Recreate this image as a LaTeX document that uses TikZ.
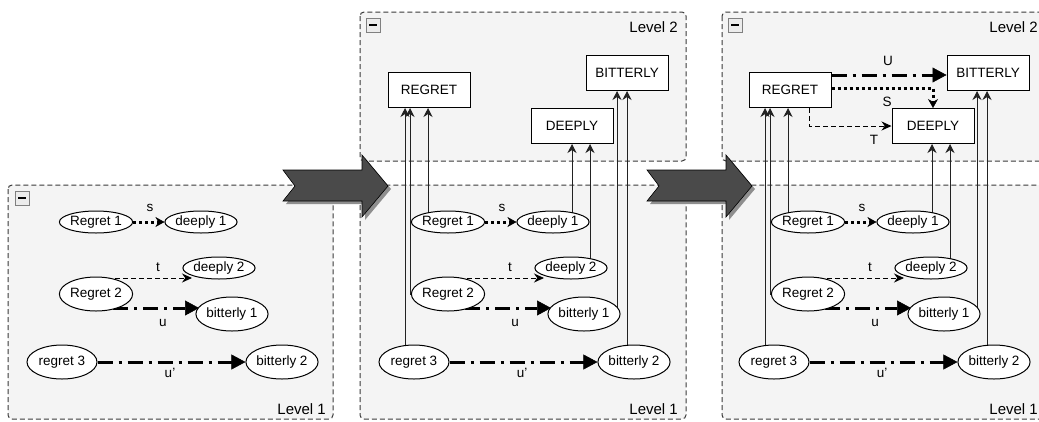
\documentclass[tikz,border=0pt]{standalone}
\usepackage{fontspec}
\setmainfont{Liberation Sans}
\usetikzlibrary{shapes,arrows.meta}

\definecolor{panelfill}{HTML}{F4F4F4}
\definecolor{framegray}{HTML}{3A3A3A}
\definecolor{arrowgray}{HTML}{4A4A4A}
\definecolor{shadowgray}{HTML}{8E8E8E}
\definecolor{wiregray}{HTML}{222222}

\pgfdeclarelayer{back}
\pgfdeclarelayer{wires}
\pgfsetlayers{back,wires,main}

\tikzset{
  panel/.style={draw=framegray, fill=panelfill, line width=1pt, dash pattern=on 5pt off 3pt, rounded corners=4pt},
  toggle/.style={draw=gray, fill=gray!15, minimum size=14pt, inner sep=0pt},
  lvl/.style={anchor=east, inner sep=0pt, font=\fontsize{15}{17}\selectfont},
  lab/.style={inner sep=0pt, font=\fontsize{13.5}{15}\selectfont},
  ell/.style={ellipse, draw, fill=white, line width=1pt, minimum width=70pt, minimum height=22pt, inner sep=0pt, font=\fontsize{13.5}{15}\selectfont},
  elltall/.style={ell, minimum height=34pt},
  box/.style={rectangle, draw, fill=white, line width=1pt, minimum width=82pt, minimum height=35pt, font=\fontsize{13.5}{15}\selectfont},
  up/.style={draw=wiregray, line width=0.9pt, -{Stealth[length=9pt,width=9pt]}},
  sline/.style={line width=3pt, dash pattern=on 3pt off 3pt, -{Stealth[length=9pt,width=10pt,line width=0.5pt]}},
  tline/.style={line width=0.9pt, dash pattern=on 5pt off 3pt, -{Stealth[length=10pt,width=9pt]}},
  uline/.style={line width=3pt, dash pattern=on 15pt off 6pt on 3pt off 6pt, -{Triangle[length=14pt,width=15pt,line width=0.5pt]}},
  bigarrow/.style={fill=arrowgray, draw=black, line width=0.6pt, preaction={fill=shadowgray, transform canvas={shift={(3pt,-3pt)}}}}
}

\begin{document}
\begin{tikzpicture}[x=1pt, y=-1pt]
\useasboundingbox (0,0) rectangle (1039,421);

%frames
\begin{pgfonlayer}{back}
\draw[panel] (8,185) rectangle (333,419);
\draw[panel] (360,12) rectangle (686,161);
\draw[panel] (360,185) rectangle (686,419);
\draw[panel] (722,12) rectangle (1046,161);
\draw[panel] (722,185) rectangle (1046,419);
\draw[bigarrow] (283,170) -- (362,170) -- (362,155) -- (388,186) -- (362,217) -- (362,201) -- (283,201) -- (295,186) -- cycle;
\draw[bigarrow] (647,170) -- (726,170) -- (726,155) -- (752,186) -- (726,217) -- (726,201) -- (647,201) -- (659,186) -- cycle;
\end{pgfonlayer}

\node[toggle] (tga) at (22,198) {\rule{8pt}{2pt}};
\node[toggle] (tgb) at (373,25) {\rule{8pt}{2pt}};
\node[toggle] (tgc) at (735,25) {\rule{8pt}{2pt}};
\node[lvl] (lv1a) at (326,409) {Level 1};
\node[lvl] (lv2b) at (678,27) {Level 2};
\node[lvl] (lv1b) at (678,409) {Level 1};
\node[lvl] (lv2c) at (1038,27) {Level 2};
\node[lvl] (lv1c) at (1038,409) {Level 1};

%nodes
\node[ell] (reg1a) at (96,222) {Regret 1};
\node[ell] (dee1a) at (201,222) {deeply 1};
\node[ell] (dee2a) at (219,268) {deeply 2};
\node[elltall] (reg2a) at (96,294) {Regret 2};
\node[elltall] (bit1a) at (232,314) {bitterly 1};
\node[elltall] (reg3a) at (62,362) {regret 3};
\node[elltall] (bit2a) at (282,362) {bitterly 2};

\node[ell] (reg1b) at (448,222) {Regret 1};
\node[ell] (dee1b) at (553,222) {deeply 1};
\node[ell] (dee2b) at (571,268) {deeply 2};
\node[elltall] (reg2b) at (448,294) {Regret 2};
\node[elltall] (bit1b) at (584,314) {bitterly 1};
\node[elltall] (reg3b) at (414,362) {regret 3};
\node[elltall] (bit2b) at (634,362) {bitterly 2};
\node[box] (REGb) at (429,90) {REGRET};
\node[box] (DEEb) at (572,126) {DEEPLY};
\node[box] (BITb) at (627,73) {BITTERLY};

\node[ell] (reg1c) at (808,222) {Regret 1};
\node[ell] (dee1c) at (913,222) {deeply 1};
\node[ell] (dee2c) at (931,268) {deeply 2};
\node[elltall] (reg2c) at (808,294) {Regret 2};
\node[elltall] (bit1c) at (944,314) {bitterly 1};
\node[elltall] (reg3c) at (774,362) {regret 3};
\node[elltall] (bit2c) at (994,362) {bitterly 2};
\node[box] (REGc) at (790,90) {REGRET};
\node[box] (DEEc) at (933,126) {DEEPLY};
\node[box] (BITc) at (988,73) {BITTERLY};

\node[lab] (sa) at (150,208) {s};
\node[lab] (ta) at (158,267) {t};
\node[lab] (ua) at (163,323) {u};
\node[lab] (u2a) at (170,373) {u'};
\node[lab] (sb) at (502,208) {s};
\node[lab] (tb) at (510,267) {t};
\node[lab] (ub) at (515,323) {u};
\node[lab] (u2b) at (522,373) {u'};
\node[lab] (sc) at (862,208) {s};
\node[lab] (tc) at (870,267) {t};
\node[lab] (uc) at (875,323) {u};
\node[lab] (u2c) at (882,373) {u'};
\node[lab] (Uc) at (888,61) {U};
\node[lab] (Sc) at (887,102) {S};
\node[lab] (Tc) at (874,140) {T};

%lines
\begin{pgfonlayer}{wires}
\draw[sline] (reg1a.east) -- (dee1a.west);
\draw[tline] ([shift={(19pt,16pt)}]reg2a.center) -- ([shift={(-27pt,-10pt)}]dee2a.center);
\draw[uline] ([shift={(17pt,-14pt)}]reg2a.center) -- ([shift={(-33pt,6pt)}]bit1a.center);
\draw[uline] (reg3a.east) -- (bit2a.west);

\draw[sline] (reg1b.east) -- (dee1b.west);
\draw[tline] ([shift={(19pt,16pt)}]reg2b.center) -- ([shift={(-27pt,-10pt)}]dee2b.center);
\draw[uline] ([shift={(17pt,-14pt)}]reg2b.center) -- ([shift={(-33pt,6pt)}]bit1b.center);
\draw[uline] (reg3b.east) -- (bit2b.west);
\draw[up] ([xshift=-9pt]reg3b.center) -- ([xshift=-9pt]reg3b.center |- REGb.south);
\draw[up] (reg2b.center) -- ([xshift=-38pt]reg2b.center) -- ([xshift=-38pt]reg2b.center |- REGb.south);
\draw[up] ([xshift=-20pt]reg1b.center) -- ([xshift=-20pt]reg1b.center |- REGb.south);
\draw[up] ([xshift=19pt]dee1b.center) -- ([xshift=19pt]dee1b.center |- DEEb.south);
\draw[up] ([xshift=19pt]dee2b.center) -- ([xshift=19pt]dee2b.center |- DEEb.south);
\draw[up] ([xshift=33pt]bit1b.center) -- ([xshift=33pt]bit1b.center |- BITb.south);
\draw[up] ([xshift=-7pt]bit2b.center) -- ([xshift=-7pt]bit2b.center |- BITb.south);

\draw[sline] (reg1c.east) -- (dee1c.west);
\draw[tline] ([shift={(19pt,16pt)}]reg2c.center) -- ([shift={(-27pt,-10pt)}]dee2c.center);
\draw[uline] ([shift={(17pt,-14pt)}]reg2c.center) -- ([shift={(-33pt,6pt)}]bit1c.center);
\draw[uline] (reg3c.east) -- (bit2c.west);
\draw[up] ([xshift=-9pt]reg3c.center) -- ([xshift=-9pt]reg3c.center |- REGc.south);
\draw[up] (reg2c.center) -- ([xshift=-38pt]reg2c.center) -- ([xshift=-38pt]reg2c.center |- REGc.south);
\draw[up] ([xshift=-20pt]reg1c.center) -- ([xshift=-20pt]reg1c.center |- REGc.south);
\draw[up] ([xshift=19pt]dee1c.center) -- ([xshift=19pt]dee1c.center |- DEEc.south);
\draw[up] ([xshift=19pt]dee2c.center) -- ([xshift=19pt]dee2c.center |- DEEc.south);
\draw[up] ([xshift=33pt]bit1c.center) -- ([xshift=33pt]bit1c.center |- BITc.south);
\draw[up] ([xshift=-7pt]bit2c.center) -- ([xshift=-7pt]bit2c.center |- BITc.south);

\draw[uline] ([yshift=15pt]REGc.east) -- ([yshift=15pt]REGc.east -| BITc.west);
\draw[sline] ([yshift=2pt]REGc.east) -| (DEEc.north);
\draw[tline] ([xshift=19pt]REGc.south) |- (DEEc.west);
\end{pgfonlayer}

\end{tikzpicture}
\end{document}
